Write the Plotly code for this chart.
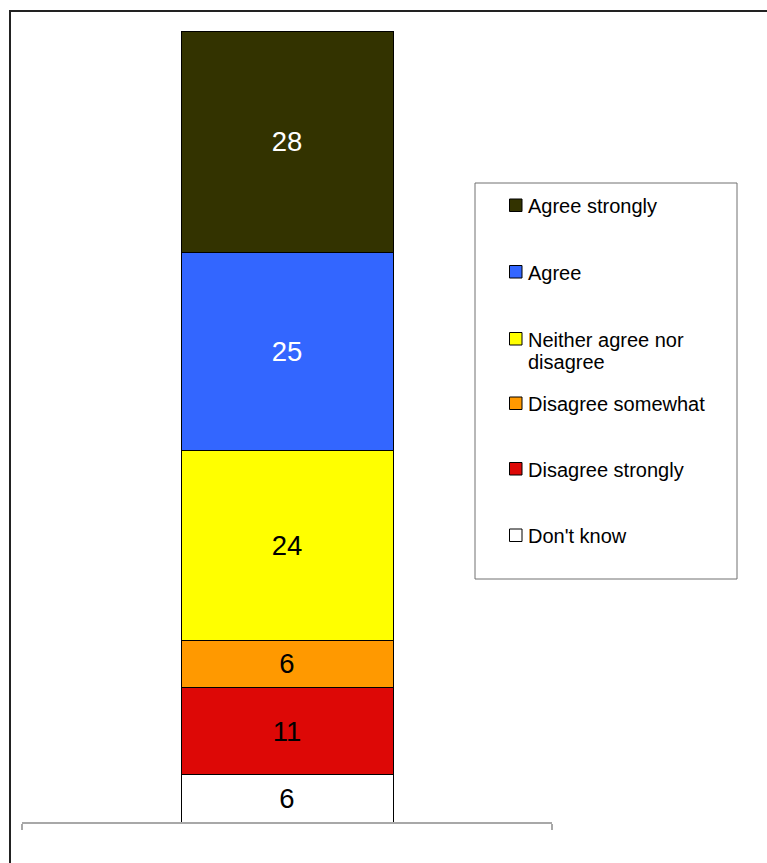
import plotly.graph_objects as go

# ---- data ----
categories = ["All"]
series_names = ["Don't know", "Disagree strongly", "Disagree somewhat",
                "Neither agree nor disagree", "Agree", "Agree strongly"]
series_values = [6, 11, 6, 24, 25, 28]
series_colors = ["#FFFFFF", "#DD0806", "#FF9900", "#FFFF00", "#3366FF", "#333300"]
label_colors = ["#000000", "#000000", "#000000", "#000000", "#FFFFFF", "#FFFFFF"]
legend_order = ["Agree strongly", "Agree", "Neither agree nor<br>disagree",
                "Disagree somewhat", "Disagree strongly", "Don't know"]
legend_colors = ["#333300", "#3366FF", "#FFFF00", "#FF9900", "#DD0806", "#FFFFFF"]

W, H = 767, 863
L, R, T, B = 22, 552, 31, 822  # plot area in pixels

def px(x):
    return (x - L) / (R - L)

def py(y):
    return (B - y) / (B - T)

FONT = "Liberation Sans, Arial, sans-serif"

fig = go.Figure()
for name, val, col, lc in zip(series_names, series_values, series_colors, label_colors):
    fig.add_trace(go.Bar(
        x=categories, y=[val], name=name,
        marker=dict(color=col, line=dict(color="#000000", width=1)),
        width=0.4,
        text=[str(val)], textposition="inside", insidetextanchor="middle",
        textangle=0, constraintext="none",
        textfont=dict(family=FONT, size=27.5, color=lc),
        showlegend=False, hoverinfo="skip",
    ))

shapes = []
annotations = []
# outer border
shapes.append(dict(type="rect", xref="paper", yref="paper",
                   x0=px(10), x1=px(800), y0=py(900), y1=py(11),
                   line=dict(color="#222222", width=2), fillcolor="rgba(0,0,0,0)"))
# legend box
shapes.append(dict(type="rect", xref="paper", yref="paper",
                   x0=px(475), x1=px(737), y0=py(579), y1=py(183),
                   line=dict(color="#707070", width=1), fillcolor="#FFFFFF"))
row_y = [205, 271.5, 338.5, 403, 468.5, 535]
for name, col, yc in zip(legend_order, legend_colors, row_y):
    shapes.append(dict(type="rect", xref="paper", yref="paper",
                       x0=px(509.5), x1=px(522), y0=py(yc + 6.5), y1=py(yc - 6),
                       line=dict(color="#000000", width=1), fillcolor=col))
    lines = name.split("<br>")
    for i, ln in enumerate(lines):
        annotations.append(dict(xref="paper", yref="paper", x=px(526), y=py(yc + 1 + i * 22),
                                text=ln, showarrow=False, xanchor="left", yanchor="middle",
                                font=dict(family=FONT, size=20, color="#000000")))

fig.update_layout(
    width=W, height=H,
    margin=dict(l=L, r=W - R, t=T, b=H - B),
    barmode="stack",
    paper_bgcolor="#FFFFFF", plot_bgcolor="#FFFFFF",
    xaxis=dict(type="category", range=[-0.5, 0.5], showline=True, linecolor="#A8A8A8",
               linewidth=2, ticks="outside", tickson="boundaries", ticklen=6,
               tickcolor="#A8A8A8", tickwidth=1.5, showticklabels=False, showgrid=False,
               zeroline=False),
    yaxis=dict(range=[0, 100], visible=False),
    shapes=shapes, annotations=annotations,
    showlegend=False,
)

fig.write_html("out.html")
